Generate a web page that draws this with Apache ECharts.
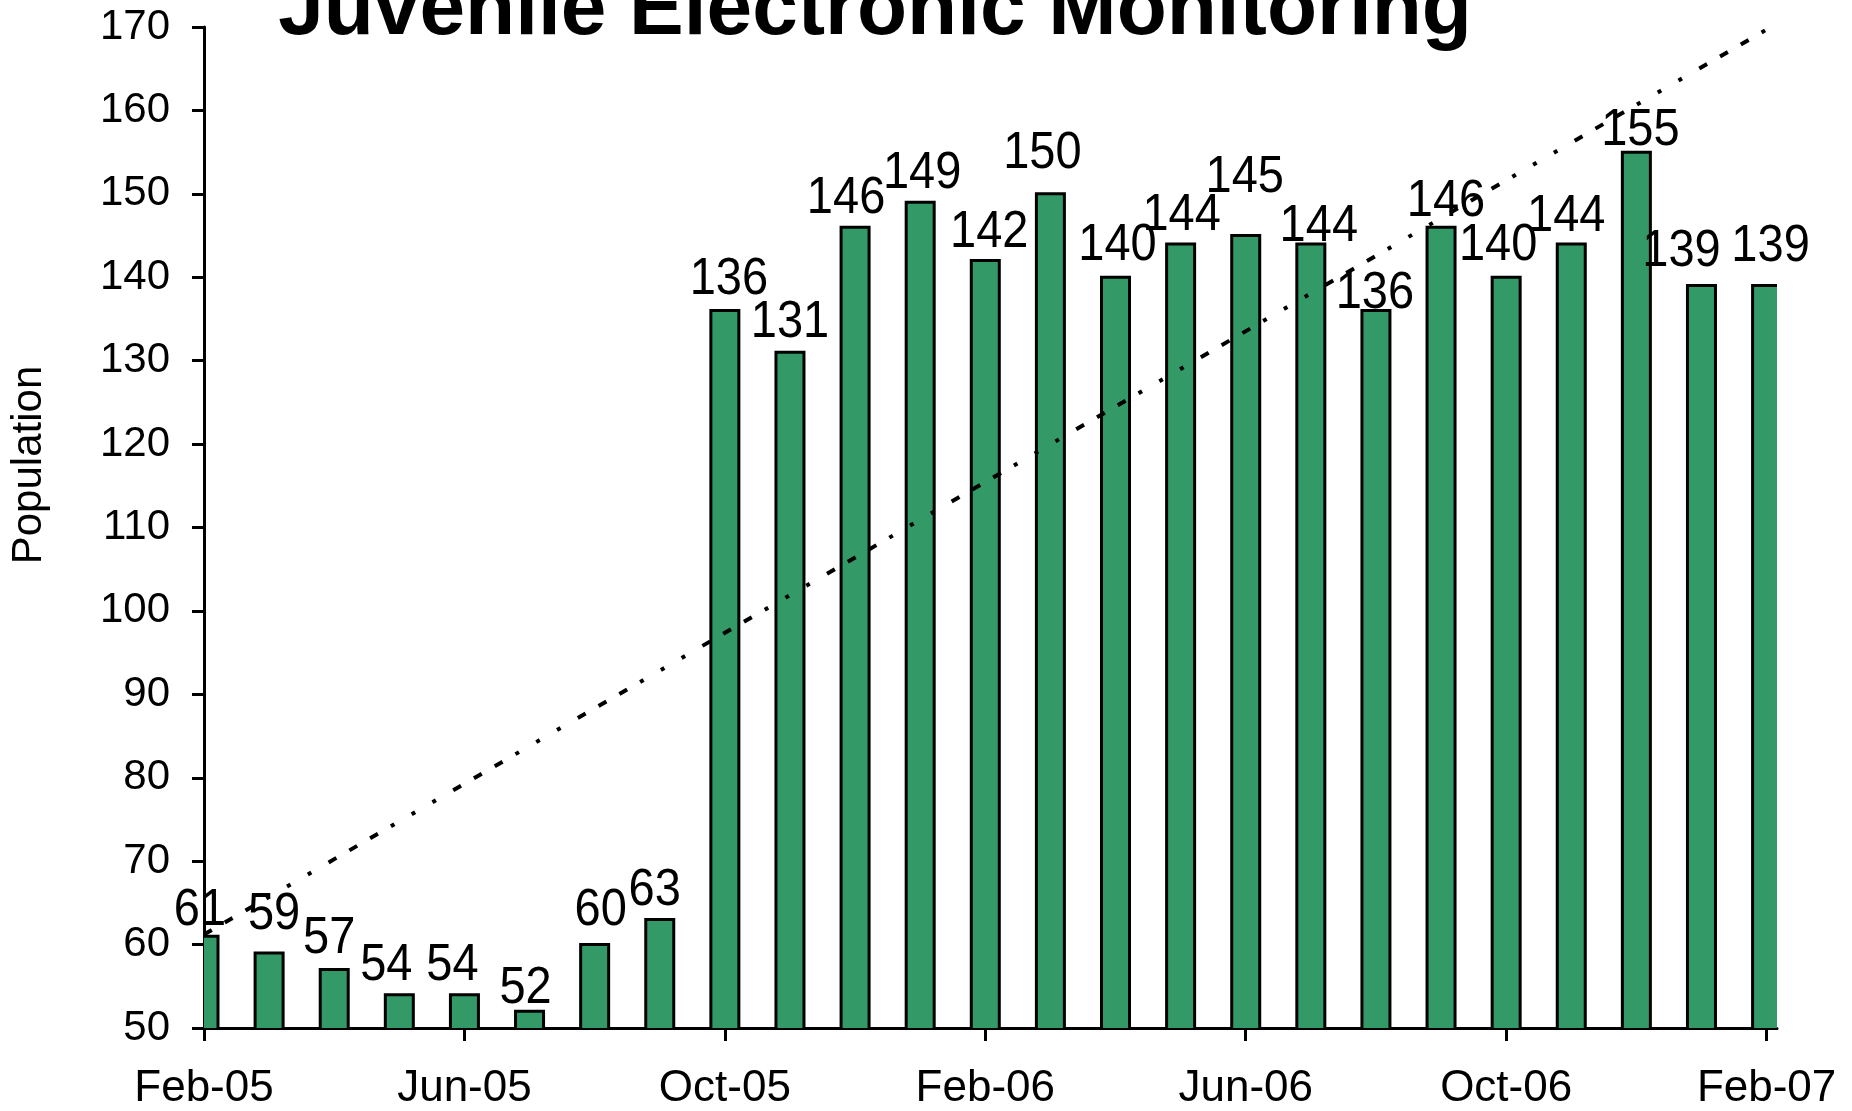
<!DOCTYPE html>
<html>
<head>
<meta charset="utf-8">
<script src="https://cdn.jsdelivr.net/npm/echarts@6/dist/echarts.min.js"></script>
<style>html,body{margin:0;padding:0;background:#fff;}#c{width:1852px;height:1111px;}</style>
</head>
<body>
<div id="c"></div>
<script>
// ---- data ----
const months = ['Feb-05','Mar-05','Apr-05','May-05','Jun-05','Jul-05','Aug-05','Sep-05','Oct-05','Nov-05','Dec-05','Jan-06',
                'Feb-06','Mar-06','Apr-06','May-06','Jun-06','Jul-06','Aug-06','Sep-06','Oct-06','Nov-06','Dec-06','Jan-07','Feb-07'];
const population = [61,59,57,54,54,52,60,63,136,131,146,149,142,150,140,144,145,144,136,146,140,144,155,139,139];
const tickLabels = ['Feb-05','Jun-05','Oct-05','Feb-06','Jun-06','Oct-06','Feb-07'];
// linear trend line end values (month index 0 and 24)
const trendMonths = [0, 24];
const trendValues = [61.2, 169.7];

// ---- style-only: label nudges (px) ----
const labelNudge = [[-4,4],[5,-9],[-5,-2],[-13,0],[-12,0],[-4,7],[6,-4],[-5,1],[4,-2],[0,0],[-9,1],[2,1],[4,2],
                    [-8,-11],[2,-2],[1,1],[-1,-28],[8,12],[-1,12],[5,4],[-8,-2],[-5,2],[4,8],[-20,-4],[4,-9]];

const FONT = "'Liberation Sans', Arial, sans-serif";
const BAR_W = 28, BAR_BORDER = 3, LABEL_GAP = 2;
const chart = echarts.init(document.getElementById('c'), null, {renderer: 'canvas'});
const tickVals = tickLabels.map((t, k) => k * 4);

function renderBar(params, api) {
  const i = api.value(0), v = api.value(1);
  const top = api.coord([i, v]);
  const bot = api.coord([i, 50]);
  const cs = params.coordSys;
  const x0 = top[0] - BAR_W / 2, x1 = top[0] + BAR_W / 2;
  const cx0 = Math.max(x0, cs.x), cx1 = Math.min(x1, cs.x + cs.width);
  const pts = [];
  if (x0 >= cs.x) pts.push([x0, bot[1]]);
  pts.push([cx0, top[1]]);
  pts.push([cx1, top[1]]);
  if (x1 <= cs.x + cs.width) pts.push([x1, bot[1]]);
  const nudge = labelNudge[params.dataIndex] || [0, 0];
  return {
    type: 'group',
    children: [
      {type: 'rect', shape: {x: cx0, y: top[1], width: cx1 - cx0, height: bot[1] - top[1]},
       style: {fill: '#339966'}},
      {type: 'polyline', shape: {points: pts},
       style: {fill: null, stroke: '#000', lineWidth: BAR_BORDER, lineJoin: 'miter'}},
      {type: 'text', x: top[0] + nudge[0], y: top[1] - BAR_BORDER / 2 - LABEL_GAP + nudge[1], scaleY: 1.1,
       style: {text: String(v), fill: '#000', font: '47px ' + FONT, textAlign: 'center', textVerticalAlign: 'bottom'}}
    ]
  };
}

const option = {
  animation: false,
  backgroundColor: '#ffffff',
  grid: {left: 204, top: 27, width: 1573, height: 1001, containLabel: false},
  xAxis: {
    type: 'value', min: 0, max: 24.16,
    axisLine: {show: true, lineStyle: {color: '#000', width: 3}},
    axisTick: {show: true, length: 13, lineStyle: {color: '#000', width: 3}, customValues: tickVals},
    axisLabel: {show: true, customValues: tickVals, margin: 39, fontSize: 44, color: '#000', fontFamily: FONT,
      formatter: v => tickLabels[Math.round(v / 4)] || ''},
    splitLine: {show: false}
  },
  yAxis: {
    type: 'value', min: 50, max: 170, interval: 10,
    axisLine: {show: true, lineStyle: {color: '#000', width: 3}},
    axisTick: {show: true, length: 12, lineStyle: {color: '#000', width: 3}},
    axisLabel: {margin: 34, fontSize: 42, color: '#000', fontFamily: FONT},
    splitLine: {show: false}
  },
  graphic: [
    {type: 'text', x: 875, y: 11, z: 10, style: {text: 'Juvenile Electronic Monitoring',
      fill: '#000', font: "bold 82px " + FONT, textAlign: 'center', textVerticalAlign: 'middle'}},
    {type: 'text', x: 29, y: 465, rotation: Math.PI / 2,
      style: {text: 'Population', fill: '#000', font: "42px " + FONT, textAlign: 'center', textVerticalAlign: 'middle'}}
  ],
  series: [
    {
      type: 'custom',
      renderItem: renderBar,
      encode: {x: 0, y: 1},
      data: population.map((v, i) => [i, v]),
      clip: false,
      z: 2
    },
    {
      type: 'line',
      data: trendMonths.map((m, k) => [m, trendValues[k]]),
      symbol: 'none',
      lineStyle: {color: '#000', width: 4, type: [9, 15, 9, 15, 9, 15, 4, 20, 4, 20, 4, 20]},
      z: 5
    }
  ]
};
chart.setOption(option);
</script>
</body>
</html>
